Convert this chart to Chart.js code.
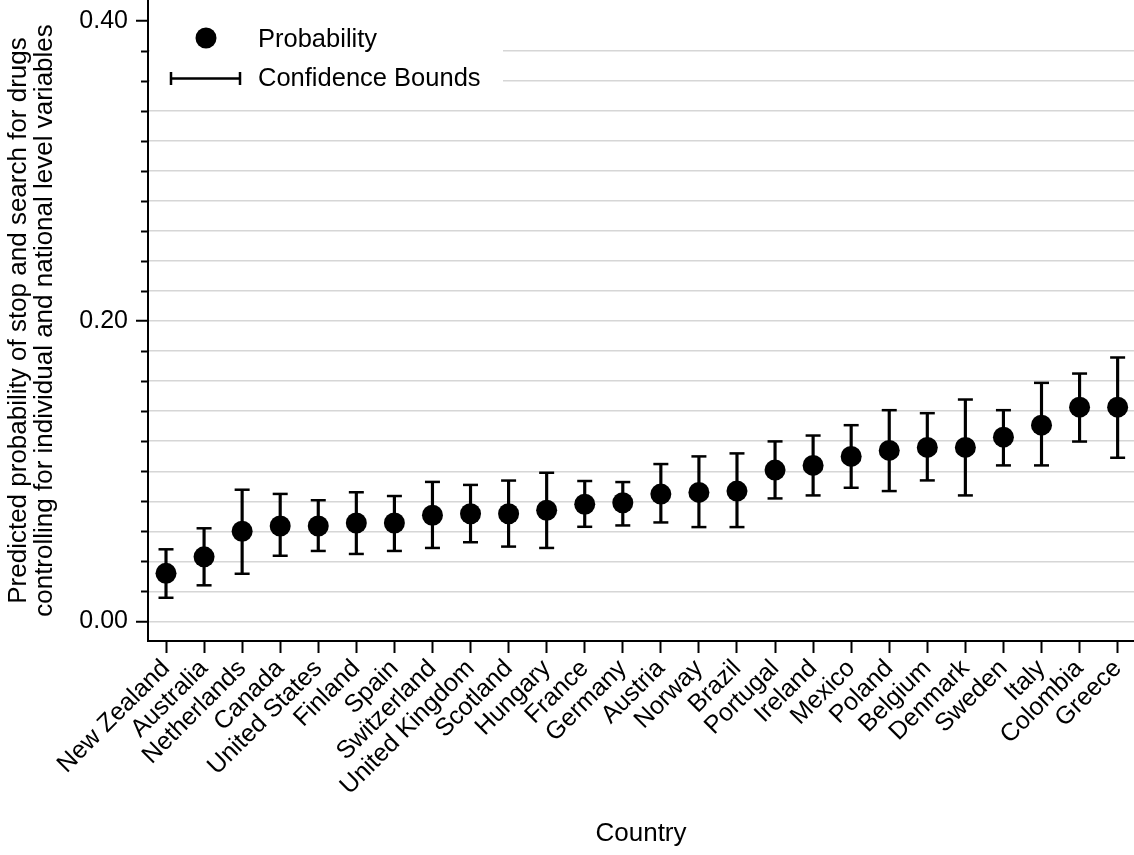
<!DOCTYPE html>
<html>
<head>
<meta charset="utf-8">
<script src="https://cdn.jsdelivr.net/npm/chart.js@4.4.1/dist/chart.umd.min.js"></script>
<style>
  html, body { margin: 0; padding: 0; background: #ffffff; }
  #wrap { width: 1134px; height: 855px; position: relative; }
</style>
</head>
<body>
<div id="wrap"><canvas id="c" width="1134" height="855"></canvas></div>
<script>
const countries = ['New Zealand','Australia','Netherlands','Canada','United States','Finland','Spain','Switzerland','United Kingdom','Scotland','Hungary','France','Germany','Austria','Norway','Brazil','Portugal','Ireland','Mexico','Poland','Belgium','Denmark','Sweden','Italy','Colombia','Greece'];
const probability = [0.032,0.043,0.060,0.0635,0.0635,0.0655,0.0655,0.0707,0.0717,0.0717,0.074,0.0780,0.079,0.0848,0.0859,0.0868,0.1008,0.1039,0.1099,0.1139,0.1159,0.1159,0.1227,0.1307,0.1427,0.1427];
const lowerBound = [0.0157,0.024,0.0317,0.0437,0.0469,0.0449,0.0469,0.0489,0.0527,0.0498,0.0489,0.0630,0.0639,0.0659,0.0628,0.0628,0.0819,0.0839,0.089,0.0868,0.0939,0.0839,0.1039,0.1039,0.1198,0.109];
const upperBound = [0.048,0.062,0.0877,0.0849,0.0807,0.086,0.0835,0.0929,0.0909,0.0938,0.099,0.0935,0.0928,0.1048,0.1099,0.1119,0.1199,0.1238,0.1307,0.1407,0.1387,0.1478,0.1407,0.1589,0.1651,0.1758];
const yTickValues = [0,0.02,0.04,0.06,0.08,0.10,0.12,0.14,0.16,0.18,0.20,0.22,0.24,0.26,0.28,0.30,0.32,0.34,0.36,0.38,0.40];
const yMajorValues = [0, 0.20, 0.40];
const yTitleLines = ['Predicted probability of stop and search for drugs','controlling for individual and national level variables'];
const xTitle = 'Country';
const seriesLabels = ['Probability','Confidence Bounds'];
</script>
<script>
const FONT = "'Liberation Sans', Arial, sans-serif";
Chart.defaults.font.family = FONT;
Chart.defaults.color = '#000';

const isMajor = v => yMajorValues.some(m => Math.abs(m - v) < 1e-9);

const minorTicks = {
  id: 'minorTicks',
  afterDraw(chart) {
    const y = chart.scales.y, ctx = chart.ctx, left = chart.chartArea.left;
    ctx.save();
    ctx.strokeStyle = '#000';
    ctx.lineWidth = 2;
    yTickValues.forEach(v => {
      if (isMajor(v)) return;
      const py = Math.round(y.getPixelForValue(v)) + 0.5;
      ctx.beginPath();
      ctx.moveTo(left - 7, py);
      ctx.lineTo(left, py);
      ctx.stroke();
    });
    ctx.restore();
  }
};

const legendBox = {
  id: 'legendBox',
  beforeDatasetsDraw(chart) {
    const ctx = chart.ctx, left = chart.chartArea.left;
    ctx.save();
    ctx.fillStyle = '#fff';
    ctx.fillRect(left + 2, 1, 503 - left - 2, 99);
    ctx.fillStyle = '#000';
    ctx.beginPath();
    ctx.arc(206, 38, 10.5, 0, Math.PI * 2);
    ctx.fill();
    ctx.strokeStyle = '#000';
    ctx.lineWidth = 2.5;
    ctx.beginPath();
    ctx.moveTo(171, 78.5); ctx.lineTo(240, 78.5);
    ctx.moveTo(171, 72); ctx.lineTo(171, 85);
    ctx.moveTo(240, 72); ctx.lineTo(240, 85);
    ctx.stroke();
    ctx.font = '25.5px ' + FONT;
    ctx.textBaseline = 'middle';
    ctx.textAlign = 'left';
    ctx.fillText(seriesLabels[0], 258, 40);
    ctx.fillText(seriesLabels[1], 258, 79);
    ctx.restore();
  }
};

const capPoints = [];
countries.forEach((c, i) => {
  capPoints.push({x: i, y: lowerBound[i]});
  capPoints.push({x: i, y: upperBound[i]});
});

new Chart(document.getElementById('c'), {
  type: 'scatter',
  data: {
    datasets: [
      {
        type: 'bar',
        label: seriesLabels[1],
        data: countries.map((c, i) => ({x: i, y: [lowerBound[i], upperBound[i]]})),
        backgroundColor: '#000',
        borderWidth: 0,
        barThickness: 2.5,
        order: 3
      },
      {
        type: 'scatter',
        label: seriesLabels[1] + ' caps',
        data: capPoints,
        pointStyle: 'line',
        pointRadius: 7.5,
        borderColor: '#000',
        borderWidth: 2.5,
        showLine: false,
        order: 2
      },
      {
        type: 'scatter',
        label: seriesLabels[0],
        data: countries.map((c, i) => ({x: i, y: probability[i]})),
        pointStyle: 'circle',
        pointRadius: 10.5,
        backgroundColor: '#000',
        borderWidth: 0,
        order: 1
      }
    ]
  },
  options: {
    responsive: false,
    animation: false,
    events: [],
    layout: { padding: 0, autoPadding: false },
    plugins: { legend: { display: false }, tooltip: { enabled: false }, title: { display: false } },
    scales: {
      x: {
        type: 'linear',
        offset: false,
        min: -0.473,
        max: 25.43,
        afterBuildTicks: s => { s.ticks = countries.map((c, i) => ({value: i})); },
        afterFit: s => { s.height = 855 - 641; s.paddingLeft = 0; s.paddingRight = 0; },
        ticks: {
          autoSkip: false,
          maxRotation: 45,
          minRotation: 45,
          padding: 1,
          font: { size: 25 },
          color: '#000',
          callback: (v, i) => countries[i]
        },
        grid: { offset: false, drawOnChartArea: false, drawTicks: true, tickLength: 12, tickColor: '#000', tickWidth: 2 },
        border: { display: true, color: '#000', width: 2 },
        title: { display: true, text: xTitle, font: { size: 26 }, color: '#000', padding: { top: 0, bottom: 6 } }
      },
      y: {
        type: 'linear',
        min: -0.0131,
        max: 0.414,
        afterBuildTicks: s => { s.ticks = yTickValues.map(v => ({value: v})); },
        afterFit: s => { s.width = 148; s.paddingTop = 0; s.paddingBottom = 0; },
        ticks: {
          autoSkip: false,
          padding: 8,
          font: { size: 25 },
          color: '#000',
          callback: v => isMajor(v) ? v.toFixed(2) : ''
        },
        grid: {
          color: ctx => (ctx.tick && ctx.tick.value > 0.39) ? 'rgba(0,0,0,0)' : '#d6d6d6',
          lineWidth: 1.5,
          drawTicks: true,
          tickLength: 12,
          tickWidth: 2,
          tickColor: ctx => (ctx.tick && isMajor(ctx.tick.value)) ? '#000' : 'rgba(0,0,0,0)'
        },
        border: { display: true, color: '#000', width: 2 },
        title: { display: true, text: yTitleLines, font: { size: 26, lineHeight: 1.0 }, color: '#000', padding: { top: 6, bottom: 0 } }
      }
    }
  },
  plugins: [minorTicks, legendBox]
});
</script>
</body>
</html>
